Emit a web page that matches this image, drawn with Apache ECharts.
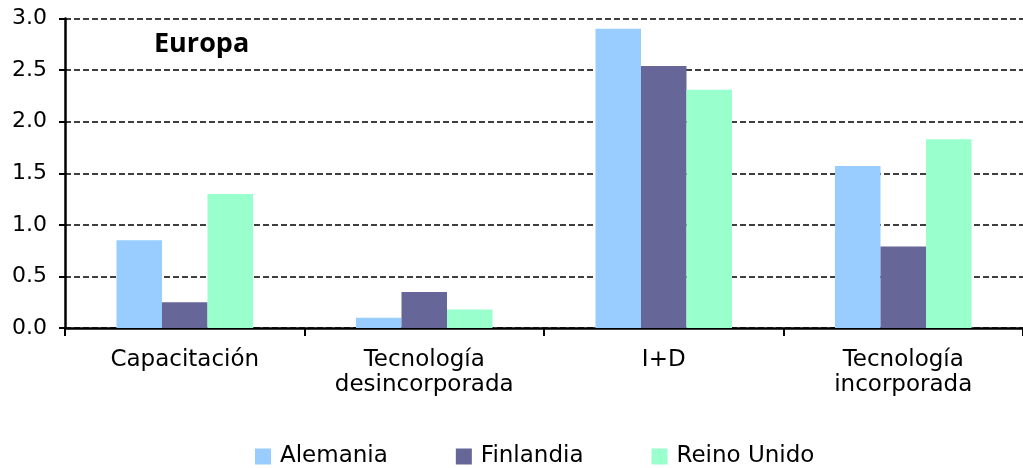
<!DOCTYPE html>
<html>
<head>
<meta charset="utf-8">
<script src="https://cdn.jsdelivr.net/npm/echarts@6/dist/echarts.min.js"></script>
<style>html,body{margin:0;padding:0;background:#fff}#c{width:1023px;height:468px}</style>
</head>
<body>
<div id="c"></div>
<script>
const categories = ['Capacitación', 'Tecnología\ndesincorporada', 'I+D', 'Tecnología\nincorporada'];
const alemania = [0.85, 0.10, 2.90, 1.57];
const finlandia = [0.25, 0.35, 2.54, 0.79];
const reinoUnido = [1.30, 0.18, 2.31, 1.83];
const seriesNames = ['Alemania', 'Finlandia', 'Reino Unido'];
const colors = ['#99CCFF', '#666699', '#99FFCC'];
const titleText = 'Europa';

const chart = echarts.init(document.getElementById('c'), null, {renderer: 'canvas'});
const font = 'DejaVu Sans';
chart.setOption({
  animation: false,
  color: colors,
  grid: {left: 65, right: 0, top: 18.5, bottom: 140, containLabel: false},
  legend: {
    data: seriesNames,
    left: 250, top: 440,
    itemWidth: 16, itemHeight: 16, itemGap: 68,
    icon: 'rect',
    textStyle: {fontFamily: font, fontSize: 23, color: '#000', padding: [0, 0, 0, 4]}
  },
  graphic: [{
    type: 'text', left: 154, top: 31,
    style: {text: titleText, font: 'bold 27px "Open Sans"', fill: '#000'}
  }],
  xAxis: {
    type: 'category', data: categories,
    axisLine: {lineStyle: {color: '#000', width: 2.5}},
    axisTick: {show: true, length: 8, lineStyle: {color: '#000', width: 2}},
    axisLabel: {fontFamily: font, fontSize: 23, color: '#000', margin: 20, lineHeight: 25, interval: 0}
  },
  yAxis: {
    type: 'value', min: 0, max: 3, interval: 0.5,
    axisLine: {show: true, lineStyle: {color: '#000', width: 2.5}},
    axisTick: {show: true, length: 6, lineStyle: {color: '#000', width: 2}},
    axisLabel: {fontFamily: font, fontSize: 22, color: '#000', margin: 18, formatter: v => v.toFixed(1)},
    splitLine: {show: true, lineStyle: {color: '#000', width: 1.5, type: [6, 3]}}
  },
  series: [
    {name: seriesNames[0], type: 'bar', data: alemania, barGap: '0%', barCategoryGap: '43%'},
    {name: seriesNames[1], type: 'bar', data: finlandia, barGap: '0%', barCategoryGap: '43%'},
    {name: seriesNames[2], type: 'bar', data: reinoUnido, barGap: '0%', barCategoryGap: '43%'}
  ]
});
</script>
</body>
</html>
